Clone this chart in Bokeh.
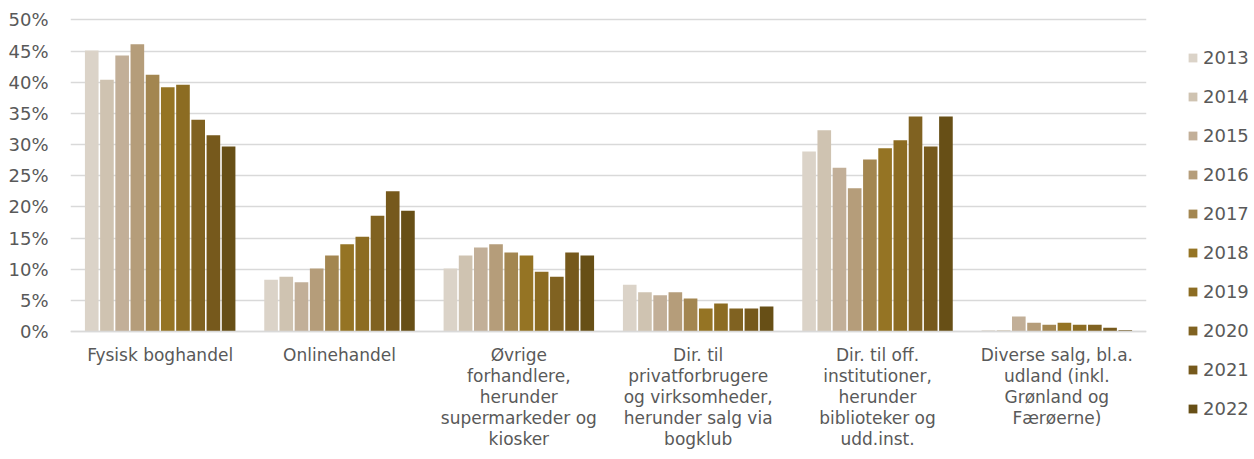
from bokeh.plotting import figure
from bokeh.models import (FactorRange, Legend, LegendItem, NumeralTickFormatter,
                          SingleIntervalTicker, Span, ColumnDataSource)
from bokeh.transform import dodge
from bokeh.embed import file_html
from bokeh.resources import INLINE

categories = [
    "Fysisk boghandel",
    "Onlinehandel",
    "Øvrige\nforhandlere,\nherunder\nsupermarkeder og\nkiosker",
    "Dir. til\nprivatforbrugere\nog virksomheder,\nherunder salg via\nbogklub",
    "Dir. til off.\ninstitutioner,\nherunder\nbiblioteker og\nudd.inst.",
    "Diverse salg, bl.a.\nudland (inkl.\nGrønland og\nFærøerne)",
]
years = ["2013", "2014", "2015", "2016", "2017", "2018", "2019", "2020", "2021", "2022"]

v2013 = [0.451, 0.083, 0.101, 0.075, 0.289, 0.002]
v2014 = [0.404, 0.088, 0.122, 0.063, 0.323, 0.002]
v2015 = [0.443, 0.079, 0.135, 0.058, 0.263, 0.024]
v2016 = [0.461, 0.101, 0.140, 0.063, 0.230, 0.014]
v2017 = [0.412, 0.122, 0.127, 0.053, 0.276, 0.011]
v2018 = [0.392, 0.140, 0.122, 0.037, 0.294, 0.014]
v2019 = [0.396, 0.152, 0.096, 0.045, 0.307, 0.011]
v2020 = [0.340, 0.186, 0.088, 0.037, 0.345, 0.011]
v2021 = [0.315, 0.225, 0.127, 0.037, 0.297, 0.006]
v2022 = [0.297, 0.194, 0.122, 0.040, 0.345, 0.002]
series = [v2013, v2014, v2015, v2016, v2017, v2018, v2019, v2020, v2021, v2022]

colors = ["#DBD3C8", "#CFC3B1", "#C2AF98", "#B59D7A", "#A38650",
          "#957424", "#8C6C22", "#806221", "#76591C", "#674F16"]

FONT = "DejaVu Sans"
TXT = "#595959"
GRID = "#D9D9D9"

p = figure(x_range=FactorRange(*categories, range_padding=0),
           y_range=(-0.0048, 0.504),
           frame_width=1076, frame_height=317,
           min_border_left=70, min_border_top=17, min_border_right=105, min_border_bottom=0,
           output_backend="svg", toolbar_location=None, background_fill_color="white",
           border_fill_color="white", outline_line_color=None)

data = {"cat": categories}
for y, s in zip(years, series):
    data["y" + y] = s
src = ColumnDataSource(data)

pitch = 0.0848
items = []
for i, (y, c) in enumerate(zip(years, colors)):
    r = p.vbar(x=dodge("cat", (i - 4.5) * pitch, range=p.x_range), top="y" + y,
               width=0.076, source=src, fill_color=c, line_color=None)
    items.append(LegendItem(label=y, renderers=[r]))

p.add_layout(Span(location=0, dimension="width", line_color=GRID, line_width=1.5, level="overlay"))

legend = Legend(items=items, location=(41, -85), border_line_color=None,
                background_fill_alpha=0, padding=0, margin=0,
                glyph_width=11, glyph_height=11, label_standoff=5,
                label_height=21, spacing=18,
                label_text_font=FONT, label_text_font_size="18px", label_text_color=TXT)
p.add_layout(legend, "right")

p.yaxis.ticker = SingleIntervalTicker(interval=0.05)
p.yaxis.formatter = NumeralTickFormatter(format="0%")
p.yaxis.axis_line_color = None
p.yaxis.major_tick_line_color = None
p.yaxis.minor_tick_line_color = None
p.yaxis.major_tick_out = 0
p.yaxis.major_tick_in = 0
p.yaxis.major_label_standoff = 18
p.yaxis.major_label_text_font = FONT
p.yaxis.major_label_text_font_size = "18px"
p.yaxis.major_label_text_color = TXT

p.xaxis.axis_line_color = None
p.xaxis.major_tick_line_color = None
p.xaxis.minor_tick_line_color = None
p.xaxis.major_tick_out = 0
p.xaxis.major_tick_in = 0
p.xaxis.major_label_standoff = 10
p.xaxis.major_label_text_font = FONT
p.xaxis.major_label_text_font_size = "17px"
p.xaxis.major_label_text_color = TXT
p.xaxis.major_label_text_line_height = 1.05

p.xgrid.grid_line_color = None
p.ygrid.grid_line_color = GRID
p.ygrid.grid_line_width = 1.5

open("out.html", "w").write(file_html(p, INLINE))
